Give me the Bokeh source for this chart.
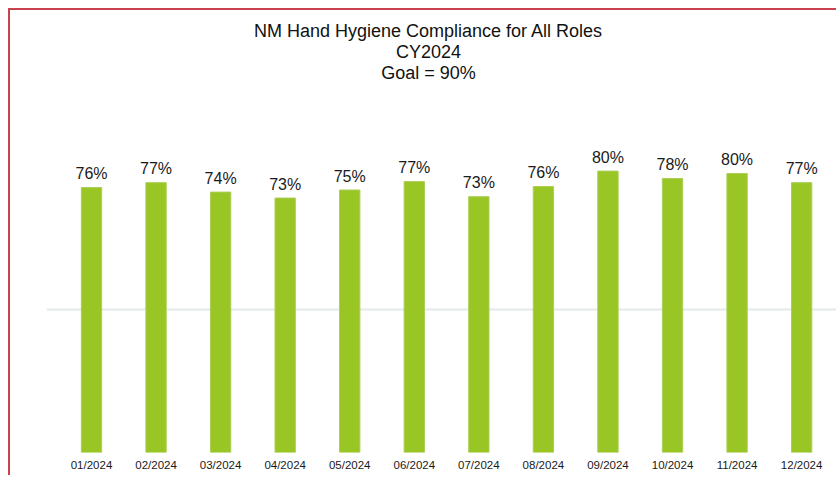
from bokeh.plotting import figure
from bokeh.models import Range1d, FixedTicker, ColumnDataSource, Label
from bokeh.embed import file_html
from bokeh.resources import INLINE
from bokeh.core.properties import value

# ---- data ----
months = ["01/2024", "02/2024", "03/2024", "04/2024", "05/2024", "06/2024",
          "07/2024", "08/2024", "09/2024", "10/2024", "11/2024", "12/2024"]
compliance = [75.7, 77.1, 74.4, 72.7, 75.0, 77.4, 73.1, 76.0, 80.4, 78.3, 79.7, 77.1]
title_lines = ["NM Hand Hygiene Compliance for All Roles", "CY2024", "Goal = 90%"]
grid_values = [40.9]

FONT = "Liberation Sans"

x = list(range(len(months)))
labels = [f"{round(v)}%" for v in compliance]
src = ColumnDataSource(dict(x=x, top=compliance, label=labels))

p = figure(width=828, height=467, output_backend="svg", toolbar_location=None,
           x_range=Range1d(-0.697, 11.571), y_range=Range1d(0, 126.29),
           min_border_left=36, min_border_right=0, min_border_top=0,
           min_border_bottom=25)
p.outline_line_color = None
p.background_fill_color = "white"
p.border_fill_color = "white"
p.styles = {"margin-left": "8px", "margin-top": "8px",
            "border-left": "2px solid #C8424F", "border-top": "2px solid #C8424F"}

p.vbar(x="x", top="top", width=0.315, source=src,
       fill_color="#99C525", line_color="#AACF55", line_width=1)
p.text(x="x", y="top", text="label", source=src, text_align="center",
       text_baseline="alphabetic", y_offset=-14, text_font=value(FONT),
       text_font_size="16px", text_color="#1a1a1a")

# titles
title_y = [120.3, 114.3, 108.3]
for t, ty in zip(title_lines, title_y):
    p.add_layout(Label(x=5.22, y=ty, text=t, text_align="center",
                       text_baseline="middle", text_font=FONT,
                       text_font_size="18px", text_color="#111111"))

p.yaxis.visible = False
p.xgrid.visible = False
p.ygrid.ticker = FixedTicker(ticks=grid_values)
p.ygrid.grid_line_color = "#E4E9E9"
p.ygrid.grid_line_width = 2

ax = p.xaxis[0]
ax.ticker = FixedTicker(ticks=x)
ax.major_label_overrides = {i: m for i, m in zip(x, months)}
ax.axis_line_color = None
ax.major_tick_line_color = None
ax.minor_tick_line_color = None
ax.major_tick_out = 0
ax.major_label_standoff = 6
ax.major_label_text_font = FONT
ax.major_label_text_font_size = "11.5px"
ax.major_label_text_color = "#1a1a1a"

open("out.html", "w").write(file_html(p, INLINE))
